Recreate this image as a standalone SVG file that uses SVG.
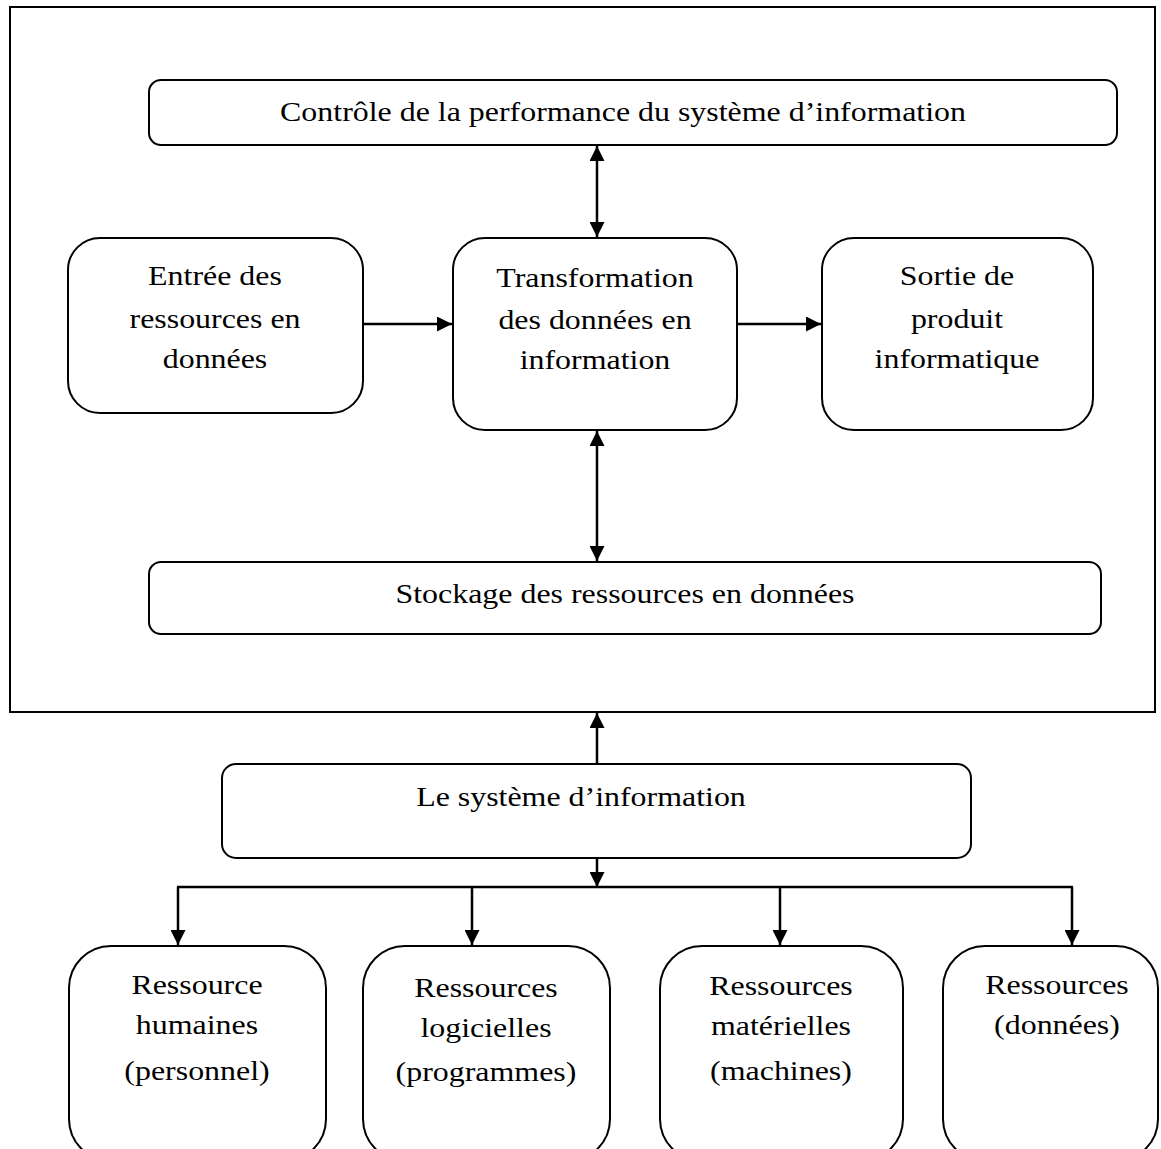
<svg xmlns="http://www.w3.org/2000/svg" width="1161" height="1149" viewBox="0 0 1161 1149">
  <style>
    .frame { fill: none; stroke: #000; stroke-width: 2; }
    .box { fill: #fff; stroke: #000; stroke-width: 2; }
    .lbl { font-family: "Liberation Serif", "Times New Roman", serif; font-size: 28px; fill: #000; text-anchor: middle; }
    .wire { fill: none; stroke: #000; stroke-width: 2.5; }
  </style>
  <defs>
    <marker id="tip" viewBox="0 0 10 10" refX="10" refY="5" markerWidth="6" markerHeight="6" markerUnits="strokeWidth" orient="auto-start-reverse">
      <path d="M0,0 L10,5 L0,10 Z" fill="#000"/>
    </marker>
  </defs>

  <rect width="1161" height="1149" fill="#fff"/>

  <!-- enclosing frame of the information system -->
  <rect id="frame" class="frame" x="10" y="7" width="1145" height="705"/>

  <!-- each label group is centred at x=0 and shifted/widened by its transform -->
  <g id="controle">
    <rect class="box" x="149" y="80" width="968" height="65" rx="12"/>
    <g transform="translate(623,0) scale(1.14,1)">
      <text class="lbl" x="0" y="121">Contrôle de la performance du système d’information</text>
    </g>
  </g>

  <g id="entree">
    <rect class="box" x="68" y="238" width="295" height="175" rx="32"/>
    <g transform="translate(215,0) scale(1.14,1)">
      <text class="lbl" x="0" y="285">Entrée des</text>
      <text class="lbl" x="0" y="328">ressources en</text>
      <text class="lbl" x="0" y="368">données</text>
    </g>
  </g>

  <g id="transformation">
    <rect class="box" x="453" y="238" width="284" height="192" rx="32"/>
    <g transform="translate(595,0) scale(1.14,1)">
      <text class="lbl" x="0" y="287">Transformation</text>
      <text class="lbl" x="0" y="329">des données en</text>
      <text class="lbl" x="0" y="369">information</text>
    </g>
  </g>

  <g id="sortie">
    <rect class="box" x="822" y="238" width="271" height="192" rx="32"/>
    <g transform="translate(957,0) scale(1.14,1)">
      <text class="lbl" x="0" y="285">Sortie de</text>
      <text class="lbl" x="0" y="328">produit</text>
      <text class="lbl" x="0" y="368">informatique</text>
    </g>
  </g>

  <g id="stockage">
    <rect class="box" x="149" y="562" width="952" height="72" rx="12"/>
    <g transform="translate(625,0) scale(1.14,1)">
      <text class="lbl" x="0" y="603">Stockage des ressources en données</text>
    </g>
  </g>

  <g id="systeme">
    <rect class="box" x="222" y="764" width="749" height="94" rx="14"/>
    <g transform="translate(581,0) scale(1.14,1)">
      <text class="lbl" x="0" y="806">Le système d’information</text>
    </g>
  </g>

  <g id="humaines">
    <rect class="box" x="69" y="946" width="257" height="215" rx="42"/>
    <g transform="translate(197,0) scale(1.14,1)">
      <text class="lbl" x="0" y="994">Ressource</text>
      <text class="lbl" x="0" y="1034">humaines</text>
      <text class="lbl" x="0" y="1080">(personnel)</text>
    </g>
  </g>

  <g id="logicielles">
    <rect class="box" x="363" y="946" width="247" height="215" rx="42"/>
    <g transform="translate(486,0) scale(1.14,1)">
      <text class="lbl" x="0" y="997">Ressources</text>
      <text class="lbl" x="0" y="1037">logicielles</text>
      <text class="lbl" x="0" y="1081">(programmes)</text>
    </g>
  </g>

  <g id="materielles">
    <rect class="box" x="660" y="946" width="243" height="215" rx="42"/>
    <g transform="translate(781,0) scale(1.14,1)">
      <text class="lbl" x="0" y="995">Ressources</text>
      <text class="lbl" x="0" y="1035">matérielles</text>
      <text class="lbl" x="0" y="1080">(machines)</text>
    </g>
  </g>

  <g id="donnees">
    <rect class="box" x="943" y="946" width="215" height="215" rx="42"/>
    <g transform="translate(1057,0) scale(1.14,1)">
      <text class="lbl" x="0" y="994">Ressources</text>
      <text class="lbl" x="0" y="1034">(données)</text>
    </g>
  </g>

  <g id="connectors">
    <line class="wire" x1="597" y1="146" x2="597" y2="237" marker-start="url(#tip)" marker-end="url(#tip)"/>
    <line class="wire" x1="363" y1="324" x2="452" y2="324" marker-end="url(#tip)"/>
    <line class="wire" x1="737" y1="324" x2="821" y2="324" marker-end="url(#tip)"/>
    <line class="wire" x1="597" y1="431" x2="597" y2="561" marker-start="url(#tip)" marker-end="url(#tip)"/>
    <line class="wire" x1="597" y1="764" x2="597" y2="713" marker-end="url(#tip)"/>
    <line class="wire" x1="597" y1="858" x2="597" y2="887" marker-end="url(#tip)"/>
    <line class="wire" x1="177" y1="887" x2="1073" y2="887"/>
    <line class="wire" x1="178" y1="887" x2="178" y2="945" marker-end="url(#tip)"/>
    <line class="wire" x1="472" y1="887" x2="472" y2="945" marker-end="url(#tip)"/>
    <line class="wire" x1="780" y1="887" x2="780" y2="945" marker-end="url(#tip)"/>
    <line class="wire" x1="1072" y1="887" x2="1072" y2="945" marker-end="url(#tip)"/>
  </g>
</svg>
